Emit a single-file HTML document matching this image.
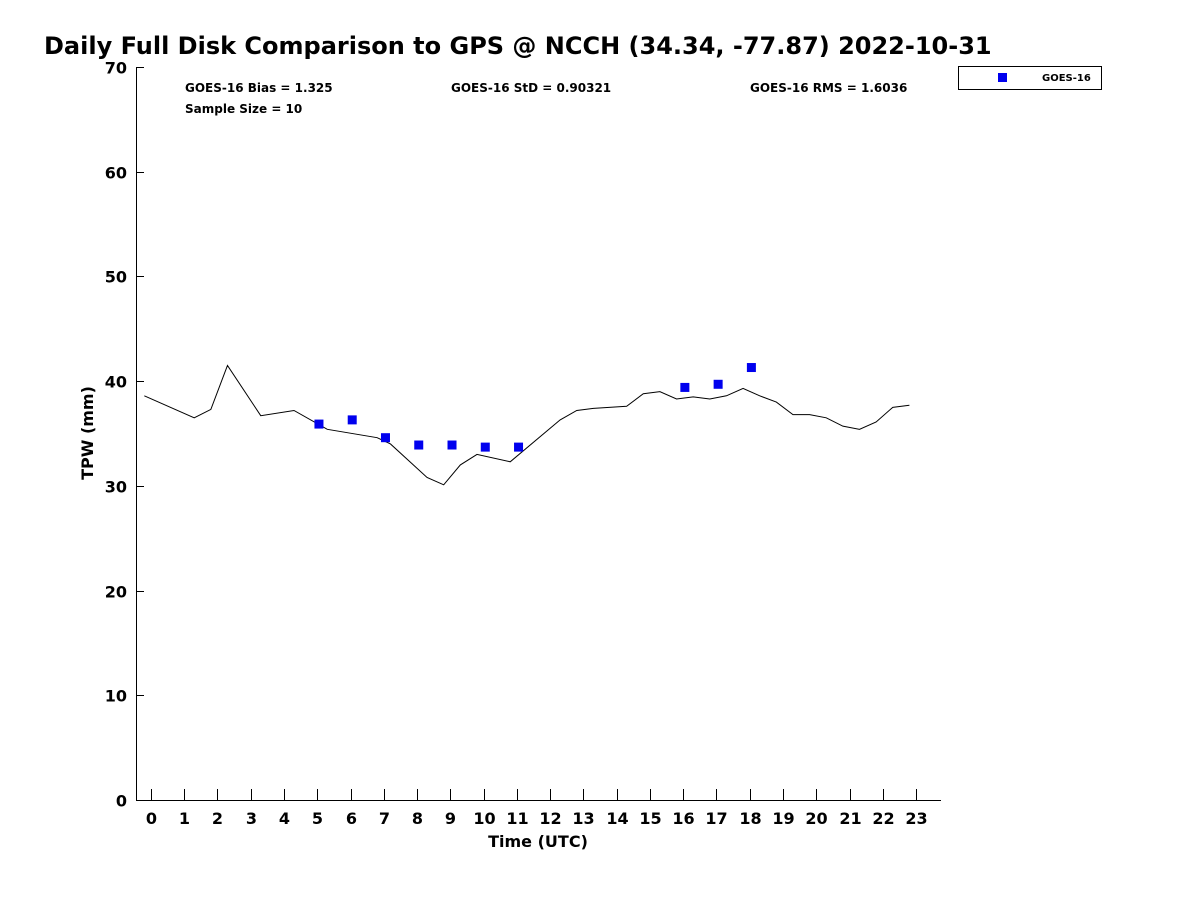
<!DOCTYPE html>
<html><head><meta charset="utf-8"><style>
body{margin:0;background:#fff;}
svg text{font-family:"DejaVu Sans","Liberation Sans",sans-serif;font-weight:bold;fill:#000;}
</style></head><body>
<svg id="chart" width="1200" height="900" xmlns="http://www.w3.org/2000/svg">
<text x="44" y="54" font-size="24">Daily Full Disk Comparison to GPS @ NCCH (34.34, -77.87) 2022-10-31</text>
<g id="axes"></g>
<g id="marks"></g>
<text x="185" y="92" font-size="12">GOES-16 Bias = 1.325</text>
<text x="185" y="113" font-size="12">Sample Size = 10</text>
<text x="451" y="92" font-size="12">GOES-16 StD = 0.90321</text>
<text x="750" y="92" font-size="12">GOES-16 RMS = 1.6036</text>
<g>
<rect x="958.5" y="66.5" width="143" height="23" fill="#fff" stroke="#000" stroke-width="1"/>
<rect x="998" y="73" width="9" height="9" fill="#0000ee"/>
<text x="1042" y="81" font-size="10">GOES-16</text>
</g>
<text x="538" y="847" font-size="16" text-anchor="middle">Time (UTC)</text>
<text transform="translate(93,433) rotate(-90)" font-size="16" text-anchor="middle">TPW (mm)</text>
</svg>
<script>
const gpsHours=[-0.2,1.3,1.8,2.3,3.3,4.3,5.3,6.8,7.2,8.3,8.8,9.3,9.8,10.8,12.3,12.8,13.3,14.3,14.8,15.3,15.8,16.3,16.8,17.3,17.8,18.3,18.8,19.3,19.8,20.3,20.8,21.3,21.8,22.3,22.8];
const gpsTpw=[38.6,36.5,37.3,41.5,36.7,37.2,35.4,34.6,34.0,30.8,30.1,32.0,33.0,32.3,36.3,37.2,37.4,37.6,38.8,39.0,38.3,38.5,38.3,38.6,39.3,38.6,38.0,36.8,36.8,36.5,35.7,35.4,36.1,37.5,37.7];
const goesHours=[5.05,6.05,7.05,8.05,9.05,10.05,11.05,16.05,17.05,18.05];
const goesTpw=[35.9,36.3,34.6,33.9,33.9,33.7,33.7,39.4,39.7,41.3];
const xTicks=[0,1,2,3,4,5,6,7,8,9,10,11,12,13,14,15,16,17,18,19,20,21,22,23];
const yTicks=[0,10,20,30,40,50,60,70];
const X0=136,X1=941,Y0=800,Y1=67,XMIN=-0.45,XMAX=23.75,YMIN=0,YMAX=70;
const xs=h=>X0+(h-XMIN)/(XMAX-XMIN)*(X1-X0);
const ys=v=>Y0-(v-YMIN)/(YMAX-YMIN)*(Y0-Y1);
const NS='http://www.w3.org/2000/svg';
function mk(t,a,p){const e=document.createElementNS(NS,t);for(const k in a)e.setAttribute(k,a[k]);p.appendChild(e);return e;}
const ax=document.getElementById('axes'),mg=document.getElementById('marks');
const yl=mk('line',{x1:X0+.5,y1:Y1,x2:X0+.5,y2:Y0+.5,stroke:'#000'},ax);


const xl=mk('line',{x1:X0,y1:Y0+.5,x2:X1,y2:Y0+.5,stroke:'#000'},ax);


xTicks.forEach(t=>{const x=Math.round(xs(t))+.5;
mk('line',{x1:x,y1:Y0,x2:x,y2:Y0-11,stroke:'#000'},ax);
const tx=mk('text',{x:x,y:Y0+24,'font-size':16,'text-anchor':'middle'},ax);tx.textContent=t;

});
yTicks.forEach(t=>{const y=Math.round(ys(t))+.5;
mk('line',{x1:X0,y1:y,x2:X0+8,y2:y,stroke:'#000'},ax);
const tx=mk('text',{x:X0-9,y:y+6,'font-size':16,'text-anchor':'end'},ax);tx.textContent=t;

});
const pl=mk('polyline',{points:gpsHours.map((h,i)=>xs(h)+','+ys(gpsTpw[i])).join(' '),fill:'none',stroke:'#000','stroke-width':1},mg);


goesHours.forEach((h,i)=>{const r=mk('rect',{x:xs(h)-4.5,y:ys(goesTpw[i])-4.5,width:9,height:9,fill:'#0000ee'},mg);

});
</script>
</body></html>
